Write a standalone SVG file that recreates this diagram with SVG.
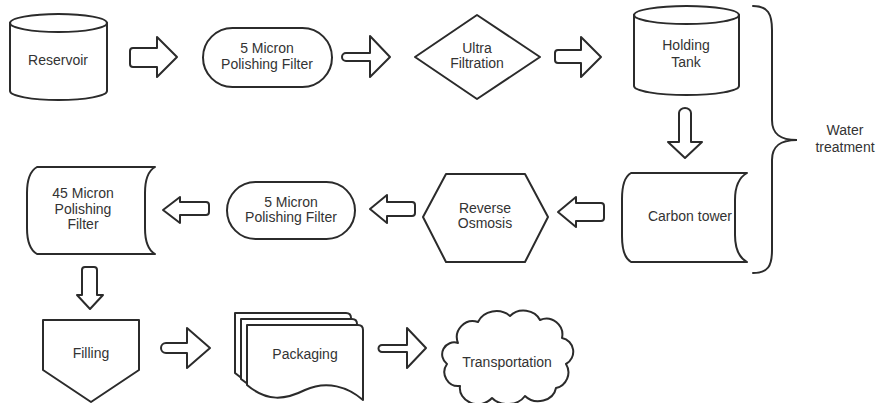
<svg xmlns="http://www.w3.org/2000/svg" width="881" height="403" viewBox="0 0 881 403">
<style>
.s{fill:#fff;stroke:#2b2b2b;stroke-width:2;stroke-linejoin:round;stroke-linecap:round}
.a{fill:#fff;stroke:#2b2b2b;stroke-width:2;stroke-linejoin:round}
.b{fill:none;stroke:#2b2b2b;stroke-width:2;stroke-linecap:round}
text{font-family:"Liberation Sans",Arial,sans-serif;font-size:14px;fill:#333;text-anchor:middle}
</style>
<rect width="881" height="403" fill="#fff"/>
<g id="reservoir">
<path class="s" d="M10,23 L10,91 A48.5,9 0 0 0 107,91 L107,23 A48.5,9 0 0 0 10,23 Z"/>
<path class="b" d="M10,23 A48.5,9 0 0 0 107,23"/>
<text x="58" y="65">Reservoir</text>
</g>
<g id="filter5top">
<rect class="s" x="203" y="28" width="129" height="59" rx="29.5"/>
<text x="267" y="53">5 Micron</text>
<text x="267" y="69">Polishing Filter</text>
</g>
<g id="ultra">
<path class="s" d="M415,57 L477,15 L540,57 L477,99 Z"/>
<text x="477" y="53">Ultra</text>
<text x="477" y="68">Filtration</text>
</g>
<g id="holding">
<path class="s" d="M634,15 L634,86 A52.5,9 0 0 0 739,86 L739,15 A52.5,9 0 0 0 634,15 Z"/>
<path class="b" d="M634,15 A52.5,9 0 0 0 739,15"/>
<text x="686" y="50">Holding</text>
<text x="686" y="67">Tank</text>
</g>
<g id="carbon">
<path class="s" d="M631,173 L747,173 C738,178 735,188 735,200 L735,235 C735,247 738,257 747,262 L631,262 C624,258 622,248 622,236 L622,199 C622,187 624,177 631,173 Z"/>
<text x="690" y="221">Carbon tower</text>
</g>
<g id="ro">
<path class="s" d="M423,217 L446,174 L525,174 L548,217 L525,262 L446,262 Z"/>
<text x="485" y="213">Reverse</text>
<text x="485" y="228">Osmosis</text>
</g>
<g id="filter5bottom">
<rect class="s" x="227" y="182" width="128" height="57" rx="28.5"/>
<text x="291" y="207">5 Micron</text>
<text x="291" y="222">Polishing Filter</text>
</g>
<g id="filter45">
<path class="s" d="M37,167 L155,167 C148,171 145,181 145,193 L145,228 C145,240 148,250 155,254 L37,254 C30,250 27,240 27,228 L27,193 C27,181 30,171 37,167 Z"/>
<text x="83" y="198">45 Micron</text>
<text x="83" y="214">Polishing</text>
<text x="83" y="229">Filter</text>
</g>
<g id="filling">
<path class="s" d="M43,320 L139,320 L139,370 L91,402 L43,370 Z"/>
<text x="91" y="358">Filling</text>
</g>
<g id="packaging">
<path class="s" d="M235,313 L346,313 Q351,313 351,318 L351,388 C336,375 315,368 293,378 C273,388 255,390 235,373 Z"/>
<path class="s" d="M241,319 L352,319 Q357,319 357,324 L357,394 C342,381 321,374 299,384 C279,394 261,396 241,379 Z"/>
<path class="s" d="M247,325 L358,325 Q363,325 363,330 L363,400 C348,387 327,380 305,390 C285,400 267,402 247,385 Z"/>
<text x="305" y="359">Packaging</text>
</g>
<g id="transportation">
<path class="s" d="M458,343 A16,16 0 0 1 478,322 A20,18 0 0 1 510,316 A18,16 0 0 1 540,320 A16,16 0 0 1 562,338 A14,14 0 0 1 566,364 A16,16 0 0 1 556,388 A18,16 0 0 1 525,396 A20,16 0 0 1 492,398 A18,16 0 0 1 460,386 A14,14 0 0 1 447,364 A12,12 0 0 1 458,343 Z"/>
<text x="507" y="367">Transportation</text>
</g>
<g id="brace">
<path class="b" d="M753,6 C768,6 772,14 772,30 L772,120 C772,134 780,140 797,140 C780,140 772,146 772,160 L772,250 C772,266 768,273 753,273"/>
<text x="845" y="135">Water</text>
<text x="845" y="152">treatment</text>
</g>
<g id="connectors">
<path class="a" d="M133,48 L157,48 L157,37 L177,57 L157,77 L157,67 L133,67 Q130,67 130,64 L130,51 Q130,48 133,48 Z"/>
<path class="a" d="M346,53 L370,53 L370,36 L390,57 L370,77 L370,61 L346,61 A4,4 0 0 1 346,53 Z"/>
<path class="a" d="M558,50 L581,50 L581,37 L601,57 L581,77 L581,63 L558,63 Q555,63 555,60 L555,53 Q555,50 558,50 Z"/>
<path class="a" d="M679,113 A6,5 0 0 1 691,113 L691,142 L702,142 L685,158 L668,142 L679,142 Z"/>
<path class="a" d="M604,206 Q604,203 601,203 L576,203 L576,197 L558,212 L576,227 L576,221 L601,221 Q604,221 604,218 Z"/>
<path class="a" d="M415,205 Q415,202 412,202 L387,202 L387,195 L370,209 L387,223 L387,216 L412,216 Q415,216 415,213 Z"/>
<path class="a" d="M209,205 Q209,202 206,202 L180,202 L180,197 L163,210 L180,223 L180,215 L206,215 Q209,215 209,212 Z"/>
<path class="a" d="M82,270 Q82,267 85,267 L94,267 Q97,267 97,270 L97,295 L103,295 L90,309 L77,295 L82,295 Z"/>
<path class="a" d="M166,343 L187,343 L187,328 L210,348 L187,368 L187,353 L166,353 A5,5 0 0 1 166,343 Z"/>
<path class="a" d="M382,345 L407,345 L407,328 L426,348 L407,368 L407,352 L382,352 A3.5,3.5 0 0 1 382,345 Z"/>
</g>
</svg>
